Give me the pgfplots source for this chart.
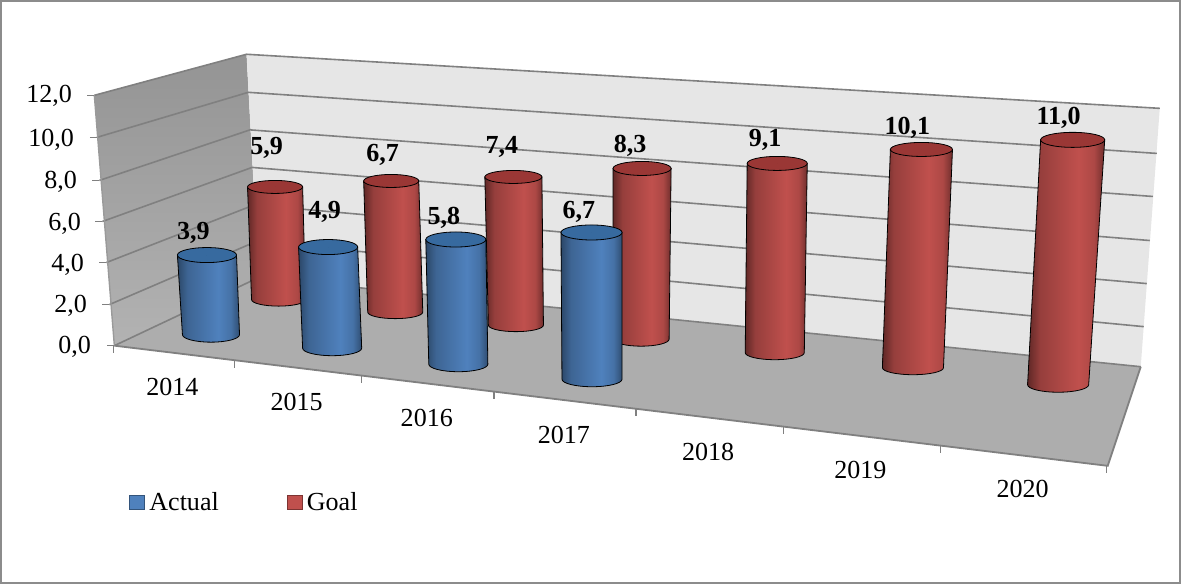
\documentclass[border=0pt]{standalone}
\usepackage{fontspec}
\setmainfont{Liberation Serif}
\usepackage{pgfplots}
\usepackage{pgfplotstable}
\pgfplotsset{compat=1.18}

\definecolor{gridgray}{HTML}{808080}
\definecolor{backwall}{HTML}{E6E6E6}
\definecolor{floorgray}{HTML}{ADADAD}
\definecolor{capblue}{HTML}{376A9F}
\definecolor{capred}{HTML}{9A3735}
\definecolor{keyblue}{HTML}{4F81BD}
\definecolor{keyred}{HTML}{C0504D}

% side of a cylinder, lit a little right of the middle
\pgfdeclarehorizontalshading{bluecyl}{100bp}{
  color(0bp)=(black!45!keyblue); color(25bp)=(black!45!keyblue);
  color(33bp)=(black!22!keyblue); color(58bp)=(keyblue);
  color(68bp)=(black!12!keyblue); color(75bp)=(black!40!keyblue); color(100bp)=(black!40!keyblue)}
\pgfdeclarehorizontalshading{redcyl}{100bp}{
  color(0bp)=(black!50!keyred); color(25bp)=(black!50!keyred);
  color(33bp)=(black!22!keyred); color(58bp)=(keyred);
  color(68bp)=(black!10!keyred); color(75bp)=(black!42!keyred); color(100bp)=(black!42!keyred)}

% year value base-x base-y px-per-unit lean base-radius top-radius ellipse label-x label-y
\pgfplotstableread{
year v    xb     yb    u     l     hwb  hwt  ry  lx   ly
2014 5.9  279    300   19.07 -0.59 27   27.5 6.5 267  148
2015 6.7  395.5  312.5 19.55 -0.60 27.5 27.5 6.5 383  155
2016 7.4  516    325.5 20.00 -0.34 27.5 28.5 6.5 502  148
2017 8.3  641    339.5 20.54  0.12 28   29   7   630  146
2018 9.1  774.5  353   20.77  0.27 29.5 30   7   765  141
2019 10.1 912.5  368   21.58  0.84 30.5 31   7   907  128
2020 11.0 1057.5 385   22.23  1.32 30.5 32   7.5 1058 118
}\goaltable
\pgfplotstableread{
year v   xb    yb    u     l     hwb  hwt  ry  lx  ly
2014 3.9 211.5 335   20.38 -1.03 28.5 29.5 7.5 194 233
2015 4.9 332.5 348.5 20.61 -0.82 29.5 29.5 7.5 325 212
2016 5.8 458.5 364.5 21.47 -0.43 29.5 30   7.5 444 218
2017 6.7 592   379.5 21.87 -0.07 30   30.5 7.5 579 212
}\actualtable

% value axis labels, right edge of the text
\pgfplotstableread{
v  x  y
0  92 347
2  88 306
4  85 265
6  82 224
8  78 182
10 75 140
12 73 97
}\ylabeltable

% category labels
\pgfplotstableread{
year x    y
2014 173  387
2015 297  402
2016 427  418
2017 564  435
2018 708  452
2019 860  470
2020 1022 489
}\xlabeltable

\pgfplotsset{
  cylinder/.style 2 args={
    only marks, scatter, mark=*, mark size=0pt,
    mark options={draw=none,fill=none},
    forget plot,
    visualization depends on={\thisrow{v}*\thisrow{u} \as \cylH},
    visualization depends on={\thisrow{v}*\thisrow{l} \as \cylLean},
    visualization depends on={\thisrow{hwb} \as \cylB},
    visualization depends on={\thisrow{hwt} \as \cylT},
    visualization depends on={\thisrow{ry} \as \cylRy},
    scatter/@pre marker code/.code={
      \begin{scope}
      \path[shading=#1]
        ({(0-\cylT)*0.5pt},0)
        -- ({(0-\cylLean-\cylB)*0.5pt},{(0-\cylH)*0.5pt})
        arc[start angle=180,end angle=360,x radius=\cylB*0.5pt,y radius=\cylRy*0.5pt]
        -- ({\cylT*0.5pt},0) -- cycle;
      \path[fill=#2] (0,0) ellipse[x radius=\cylT*0.5pt,y radius=\cylRy*0.5pt];
    },
    scatter/@post marker code/.code={\end{scope}},
  },
  valuelabel/.style={
    draw=none, mark=none, forget plot,
    point meta=\thisrow{v},
    nodes near coords,
    every node near coord/.append style={
      anchor=center, inner sep=0pt, text=black,
      font=\fontsize{13}{15}\selectfont\bfseries,
      /pgf/number format/fixed,
      /pgf/number format/fixed zerofill,
      /pgf/number format/precision=1,
      /pgf/number format/use comma,
      /pgf/number format/assume math mode=true},
  },
}

\begin{document}
\begin{tikzpicture}
\begin{axis}[
  scale only axis, width=590.5pt, height=292.5pt,
  xmin=0, xmax=1181, ymin=0, ymax=585, y dir=reverse,
  axis lines=none, clip=false,
  legend style={
    at={(axis cs:130,503)}, anchor=west, draw=none, fill=none,
    inner sep=0pt, outer sep=0pt,
    font=\fontsize{13}{15}\selectfont,
    legend columns=2,
    /tikz/every even column/.append style={column sep=32pt},
    legend cell align=left},
]
% outer frame
\addplot[draw=gray!90, line width=1.2pt, forget plot] coordinates {(2,2) (1179,2) (1179,583) (2,583)} -- cycle;

% walls and floor
\addplot[shade, top color=black!42, bottom color=black!30, draw=none, forget plot]
  coordinates {(95,96) (247,55) (259,278) (115,346)} -- cycle;
\addplot[fill=backwall, draw=none, forget plot]
  coordinates {(247,55) (1159,109) (1140,367) (259,278)} -- cycle;
\addplot[fill=floorgray, draw=none, forget plot]
  coordinates {(115,346) (259,278) (1140,367) (1107,466)} -- cycle;

% gridlines across both walls, 0 to 12 from bottom to top
\addplot[gridgray, line width=0.8pt, forget plot] coordinates {(115,346) (259,278) (1140,367)};
\addplot[gridgray, line width=0.8pt, forget plot] coordinates {(110,305) (256.5,242) (1143,327)};
\addplot[gridgray, line width=0.8pt, forget plot] coordinates {(107,263) (254.5,205.5) (1146,284)};
\addplot[gridgray, line width=0.8pt, forget plot] coordinates {(103,222) (252.5,168) (1149,241)};
\addplot[gridgray, line width=0.8pt, forget plot] coordinates {(100,181) (250.5,130.5) (1152,197)};
\addplot[gridgray, line width=0.8pt, forget plot] coordinates {(97.5,138) (248.7,93) (1156,154)};
\addplot[gridgray, line width=0.8pt, forget plot] coordinates {(95,96) (247,55) (1159,109)};

% axis edges
\addplot[gridgray!80, line width=0.7pt, forget plot] coordinates {(95,96) (115,346)};
\addplot[gridgray, line width=0.9pt, forget plot] coordinates {(115,346) (1107,466) (1140,367)};

% tick marks
\addplot[gridgray, line width=0.7pt, forget plot] coordinates {(88,96) (95,96)};
\addplot[gridgray, line width=0.7pt, forget plot] coordinates {(90.5,138) (97.5,138)};
\addplot[gridgray, line width=0.7pt, forget plot] coordinates {(93,181) (100,181)};
\addplot[gridgray, line width=0.7pt, forget plot] coordinates {(96,222) (103,222)};
\addplot[gridgray, line width=0.7pt, forget plot] coordinates {(100,263) (107,263)};
\addplot[gridgray, line width=0.7pt, forget plot] coordinates {(103,305) (110,305)};
\addplot[gridgray, line width=0.7pt, forget plot] coordinates {(108,346) (115,346)};
\addplot[gridgray, line width=0.7pt, forget plot] coordinates {(114,346) (114,353)};
\addplot[gridgray, line width=0.7pt, forget plot] coordinates {(235,361) (235,368)};
\addplot[gridgray, line width=0.7pt, forget plot] coordinates {(362,376) (362,383)};
\addplot[gridgray, line width=0.7pt, forget plot] coordinates {(494,392) (494,399)};
\addplot[gridgray, line width=0.7pt, forget plot] coordinates {(636,409) (636,416)};
\addplot[gridgray, line width=0.7pt, forget plot] coordinates {(783,427) (783,434)};
\addplot[gridgray, line width=0.7pt, forget plot] coordinates {(940,446) (940,453)};
\addplot[gridgray, line width=0.7pt, forget plot] coordinates {(1106,466) (1106,473)};

% cylinders, back row first
\addplot[cylinder={redcyl}{capred}] table[
  x expr=\thisrow{xb}+\thisrow{v}*\thisrow{l},
  y expr=\thisrow{yb}-\thisrow{v}*\thisrow{u}] {\goaltable};
\addplot[cylinder={bluecyl}{capblue}] table[
  x expr=\thisrow{xb}+\thisrow{v}*\thisrow{l},
  y expr=\thisrow{yb}-\thisrow{v}*\thisrow{u}] {\actualtable};

% stated values
\addplot[valuelabel] table[x=lx, y=ly] {\goaltable};
\addplot[valuelabel] table[x=lx, y=ly] {\actualtable};

% value axis labels
\addplot[valuelabel, every node near coord/.append style={
    anchor=east, font=\fontsize{13}{15}\selectfont\mdseries}]
  table[x=x, y=y] {\ylabeltable};

% category labels
\addplot[draw=none, mark=none, forget plot,
    point meta=explicit symbolic, nodes near coords,
    every node near coord/.append style={
      anchor=center, inner sep=0pt, text=black,
      font=\fontsize{13}{15}\selectfont}]
  table[x=x, y=y, meta=year] {\xlabeltable};

% legend
\addlegendimage{legend image code/.code={
  \draw[fill=keyblue, draw=black!35!keyblue, line width=0.5pt] (0pt,-3.5pt) rectangle (7.5pt,3.5pt);}}
\addlegendentry{Actual}
\addlegendimage{legend image code/.code={
  \draw[fill=keyred, draw=black!35!keyred, line width=0.5pt] (0pt,-3.5pt) rectangle (7.5pt,3.5pt);}}
\addlegendentry{Goal}
\end{axis}
\end{tikzpicture}
\end{document}
